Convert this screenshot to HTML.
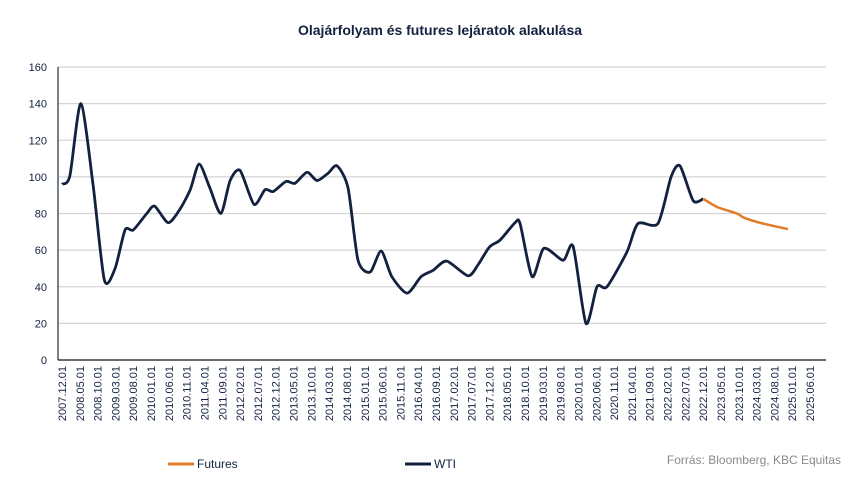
<!DOCTYPE html>
<html><head><meta charset="utf-8"><style>
body{margin:0;background:#fff;font-family:"Liberation Sans",sans-serif}
svg{display:block}
</style></head><body>
<svg id="chart" width="850" height="494" xmlns="http://www.w3.org/2000/svg">
<text x="440" y="35" text-anchor="middle" font-size="14" font-weight="bold" fill="#13213f">Olajárfolyam és futures lejáratok alakulása</text>
<g id="grid"></g>
<g id="yaxis"></g>
<g id="xaxis"></g>
<g id="series"></g>
<g>
<line x1="168" y1="464" x2="194" y2="464" stroke="#e07b27" stroke-width="3"/>
<text x="197" y="468" font-size="12" fill="#13213f">Futures</text>
<line x1="405" y1="464" x2="431" y2="464" stroke="#13213f" stroke-width="3"/>
<text x="434" y="468" font-size="12" fill="#13213f">WTI</text>
</g>
<text x="841" y="464" text-anchor="end" font-size="12" fill="#8a8a8a">Forrás: Bloomberg,  KBC Equitas</text>
</svg>
<script>
const yTicks=[0,20,40,60,80,100,120,140,160];
const xLabels=[];
(function(){let y=2007,m=12;for(let i=0;i<43;i++){xLabels.push(y+"."+String(m).padStart(2,"0")+".01");m+=5;if(m>12){m-=12;y++;}}})();
// months since 2007.12
const wtiMonths=[0,2.2,5.3,8.7,11.9,14.9,17.7,20,23.8,26,29.8,33,36,38.5,41.5,44.6,47.2,50,53.9,57,59.3,62.9,65.4,68.8,71.6,74.7,77.2,80.3,83.1,86.5,89.6,92.6,96.9,100.8,104.2,108,114,116.8,120,123,127.2,128.6,132,135.3,140.7,143.5,147.1,150.2,153,158.6,161.7,167.3,171,173.5,177.2,180];
const wtiValues=[96,100.5,140,96,43.6,50,71,71,80,84,75,82,93,107,94,80,98,103.5,85,93,92,97.5,96.5,102.5,98,102,106,94,54.5,48,59.5,45.5,36.5,45.5,49,54,46,52,61.7,65.5,75,74.5,45.5,61,54.5,62,20,40,40,59,74.5,74.5,100,106,87,88];
const futMonths=[180,184,189.5,191.7,196.8,203.8];
const futValues=[88,83.5,80,77.5,74.5,71.5];
const X0=62,X1=810,MTOT=210,Y0=360,Y1=67,L=58,R=826;
const xs=m=>X0+(X1-X0)*m/MTOT;
const ys=v=>Y0-(Y0-Y1)*v/160;
const NS="http://www.w3.org/2000/svg";
function mk(t,a,p){const e=document.createElementNS(NS,t);for(const k in a)e.setAttribute(k,a[k]);p.appendChild(e);return e;}
const grid=document.getElementById('grid'),ya=document.getElementById('yaxis'),xa=document.getElementById('xaxis'),ser=document.getElementById('series');
yTicks.forEach(v=>{
 if(v>0){const g=mk('line',{x1:L,x2:R,y1:ys(v),y2:ys(v),stroke:'#d4d4d4','stroke-width':1.3},grid);
 
 }
 const t=mk('text',{x:47,y:ys(v)+4,'text-anchor':'end','font-size':11,fill:'#13213f'},ya);t.textContent=v;
 
 
});
const al=mk('line',{x1:L,x2:L,y1:Y1,y2:Y0,stroke:'#4a5a66','stroke-width':1.5},ya);


const bl=mk('line',{x1:L,x2:R,y1:Y0,y2:Y0,stroke:'#111','stroke-width':1.2},xa);


xLabels.forEach((s,i)=>{const x=xs(i*5)+4;
 const t=mk('text',{x:0,y:0,transform:`translate(${x},366) rotate(-90)`,'text-anchor':'end','font-size':11,fill:'#13213f'},xa);t.textContent=s;
 
 
});
function smooth(ms,vs){const p=ms.map((m,i)=>[xs(m),ys(vs[i])]);let d=`M${p[0][0]},${p[0][1]}`;const k=8;
 for(let i=0;i<p.length-1;i++){const p0=p[i-1]||p[i],p1=p[i],p2=p[i+1],p3=p[i+2]||p2;
 d+=` C${p1[0]+(p2[0]-p0[0])/k},${p1[1]+(p2[1]-p0[1])/k} ${p2[0]-(p3[0]-p1[0])/k},${p2[1]-(p3[1]-p1[1])/k} ${p2[0]},${p2[1]}`;}return d;}
const w=mk('path',{d:smooth(wtiMonths,wtiValues),fill:'none',stroke:'#13213f','stroke-width':2.8,'stroke-linejoin':'round'},ser);


const f=mk('path',{d:smooth(futMonths,futValues),fill:'none',stroke:'#e07b27','stroke-width':2.5},ser);


</script>
</body></html>
